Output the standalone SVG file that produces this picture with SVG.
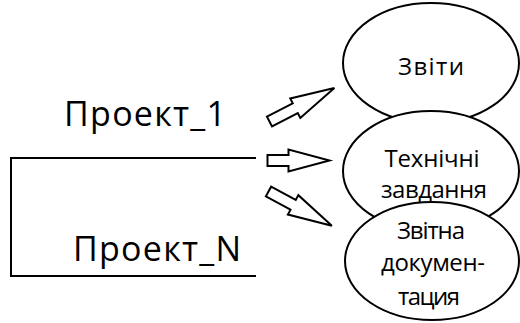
<svg xmlns="http://www.w3.org/2000/svg" width="520" height="323" viewBox="0 0 520 323">
<style>
.ln{fill:none;stroke:#000;stroke-width:2}
.arr{fill:#fff;stroke:#000;stroke-width:2;stroke-linejoin:miter}
.el{fill:#fff;stroke:#000;stroke-width:2}
.big{font-family:"Open Sans","Noto Sans",sans-serif;font-size:34px;fill:#000}
.sm{font-family:"Open Sans","Noto Sans",sans-serif;font-size:24px;fill:#000;text-anchor:middle}
</style>
<g id="projects">
<polyline class="ln" points="256,158 11,158 11,276 256,276"/>
<text class="big" x="64" y="126" textLength="162" lengthAdjust="spacing">Проект_1</text>
<text class="big" x="73" y="261" textLength="168" lengthAdjust="spacing">Проект_N</text>
</g>
<g id="connectors">
<path class="arr" transform="translate(269.5,121.5) rotate(-27.3)" d="M0,-5.5 L29,-5.5 L29,-11 L73,0 L29,11 L29,5.5 L0,5.5 Z"/>
<path class="arr" transform="translate(267.5,160.5)" d="M0,-5.5 L21,-5.5 L21,-11 L62,0 L21,11 L21,5.5 L0,5.5 Z"/>
<path class="arr" transform="translate(268.5,191.5) rotate(28.4)" d="M0,-5.5 L28,-5.5 L28,-11 L72,0 L28,11 L28,5.5 L0,5.5 Z"/>
</g>
<g id="zvity">
<ellipse class="el" cx="431" cy="63" rx="88" ry="60"/>
</g>
<g id="tekhnichni">
<ellipse class="el" cx="431" cy="171" rx="88" ry="60"/>
</g>
<g id="zvitna">
<ellipse class="el" cx="432" cy="261" rx="87" ry="59"/>
</g>
<g id="labels">
<text class="sm" x="431" y="75" textLength="66" lengthAdjust="spacing">Звіти</text>
<text class="sm" x="432" y="167" textLength="95" lengthAdjust="spacing">Технічні</text>
<text class="sm" x="434" y="198" textLength="106" lengthAdjust="spacing">завдання</text>
<text class="sm" x="431" y="239" textLength="68" lengthAdjust="spacing">Звітна</text>
<text class="sm" x="433" y="271" textLength="104" lengthAdjust="spacing">докумен-</text>
<text class="sm" x="429" y="305" textLength="62" lengthAdjust="spacing">тация</text>
</g>
</svg>
